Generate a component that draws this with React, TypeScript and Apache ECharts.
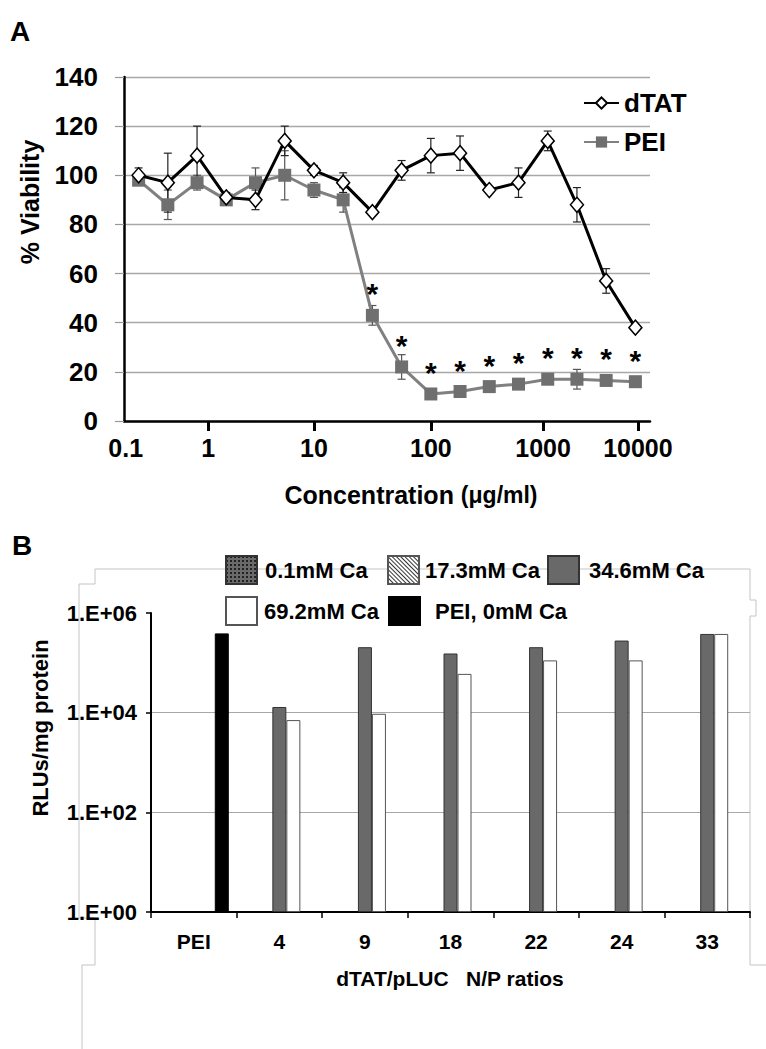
import React, { useEffect, useRef } from "react";
import * as echarts from "echarts";

// ---------- Panel A data ----------
const concentrations = [0.14, 0.3, 0.75, 1.6, 2.9, 5.4, 10, 18, 32, 57, 100, 185, 330, 600, 1100, 2300, 4600, 9400];
const concTickLabels = [0.1, 1, 10, 100, 1000, 10000];
const dTAT = [100, 97, 108, 91, 90, 114, 102, 97, 85, 102, 108, 109, 94, 97, 114, 88, 57, 38];
const dTATErr = [3, 12, 12, 2, 4, 6, 2, 4, 1, 4, 7, 7, 1, 6, 4, 7, 5, 0];
const PEI = [98, 88, 97, 90, 97, 100, 94, 90, 43, 22, 11, 12, 14, 15, 17, 17, 16.5, 16];
const PEIErr = [2, 6, 3, 2, 6, 10, 3, 5, 4, 5, 0, 0, 0, 0, 0, 4, 0, 0];
const significant = [false, false, false, false, false, false, false, false, true, true, true, true, true, true, true, true, true, true];

// ---------- Panel B data ----------
const npRatios = ["PEI", "4", "9", "18", "22", "24", "33"];
const ca01 = [null, null, null, null, null, null, null];
const ca173 = [null, null, null, null, null, null, null];
const ca346 = [null, 1.3e4, 2.06e5, 1.54e5, 2.06e5, 2.8e5, 3.8e5];
const ca692 = [null, 7.1e3, 9.5e3, 6.0e4, 1.12e5, 1.12e5, 3.8e5];
const pei0 = [3.9e5, null, null, null, null, null, null];

const FONT = '"Liberation Sans", Arial, Helvetica, sans-serif';

// position (in category units) of a concentration on the evenly spaced category axis
function concToPos(c: number): number {
  const L = concentrations.map((v) => Math.log10(v));
  const l = Math.log10(c);
  let j = 0;
  if (l <= L[0]) j = 0;
  else if (l >= L[L.length - 1]) j = L.length - 2;
  else {
    for (let k = 0; k < L.length - 1; k++) {
      if (l >= L[k] && l <= L[k + 1]) { j = k; break; }
    }
  }
  return j + 0.5 + (l - L[j]) / (L[j + 1] - L[j]);
}

function errRender(color: string) {
  return (params: any, api: any) => {
    const i = api.value(0);
    const v = api.value(1);
    const e = api.value(2);
    if (!e) return { type: "group", children: [] };
    const top = api.coord([i, v + e]);
    const bot = api.coord([i, v - e]);
    const w = 4;
    const style = { stroke: color, lineWidth: 1.2 };
    return {
      type: "group",
      children: [
        { type: "line", shape: { x1: top[0], y1: top[1], x2: bot[0], y2: bot[1] }, style },
        { type: "line", shape: { x1: top[0] - w, y1: top[1], x2: top[0] + w, y2: top[1] }, style },
        { type: "line", shape: { x1: bot[0] - w, y1: bot[1], x2: bot[0] + w, y2: bot[1] }, style },
      ],
    };
  };
}

export default function App() {
  const ref = useRef<HTMLDivElement>(null);
  useEffect(() => {
    document.body.style.margin = "0";
    if (!ref.current) return;
    const chart = echarts.init(ref.current, null, { renderer: "svg" });

    const labelPos = concTickLabels.map((c) => concToPos(c));
    const tickPos = labelPos.slice(1);
    const posToLabel = (v: number) => {
      for (let k = 0; k < labelPos.length; k++) {
        if (Math.abs(labelPos[k] - v) < 1e-6) return String(concTickLabels[k]);
      }
      return "";
    };

    const boldText = (size: number) => ({ fontFamily: FONT, fontWeight: "bold" as const, fontSize: size, color: "#000" });

    const legendB = (name: string, left: number, top: number, pad: number) => ({
      data: [name],
      left,
      top,
      padding: 0,
      itemWidth: 31,
      itemHeight: 28,
      icon: "rect",
      textStyle: { ...boldText(22), padding: [0, 0, 0, pad] },
    });

    const option: any = {
      animation: false,
      backgroundColor: "#fff",
      grid: [
        { left: 124, top: 77, width: 526, height: 344 },
        { left: 151, top: 613, width: 599, height: 299 },
      ],
      xAxis: [
        {
          gridIndex: 0,
          type: "category",
          data: concentrations.map(String),
          boundaryGap: true,
          axisLine: { lineStyle: { color: "#000", width: 2.5 } },
          axisTick: { show: false },
          axisLabel: { show: false },
          splitLine: { show: false },
        },
        {
          gridIndex: 0,
          type: "value",
          position: "bottom",
          min: 0,
          max: concentrations.length,
          axisLine: { show: false },
          splitLine: { show: false },
          axisTick: { show: true, customValues: tickPos, length: 10, lineStyle: { color: "#000", width: 3 } },
          axisLabel: { show: true, customValues: labelPos, formatter: posToLabel, margin: 14, ...boldText(25) },
        },
        {
          gridIndex: 1,
          type: "category",
          data: npRatios,
          boundaryGap: true,
          axisLine: { lineStyle: { color: "#000", width: 2 } },
          axisTick: { show: true, length: 6, lineStyle: { color: "#000", width: 1.5 } },
          axisLabel: { interval: 0, margin: 19, ...boldText(21) },
          splitLine: { show: false },
        },
      ],
      yAxis: [
        {
          gridIndex: 0,
          type: "value",
          min: 0,
          max: 140,
          interval: 20,
          axisLine: { show: true, lineStyle: { color: "#000", width: 2.5 } },
          axisTick: { show: true, length: 9, lineStyle: { color: "#999", width: 1.2 } },
          axisLabel: { margin: 26, ...boldText(26) },
          splitLine: { show: true, lineStyle: { color: "#a8a8a8", width: 1.3 } },
        },
        {
          gridIndex: 1,
          type: "log",
          logBase: 10,
          min: 1,
          max: 1e6,
          interval: 2,
          axisLine: { show: true, lineStyle: { color: "#000", width: 2 } },
          axisTick: { show: true, length: 5, lineStyle: { color: "#000", width: 1.5 } },
          axisLabel: {
            margin: 14,
            ...boldText(22),
            formatter: (v: number) => {
              const e = Math.round(Math.log10(v));
              return e % 2 === 0 ? `1.E+${String(e).padStart(2, "0")}` : "";
            },
          },
          splitLine: { show: true, showMinLine: false, showMaxLine: false, lineStyle: { color: "#a8a8a8", width: 1.2 } },
        },
      ],
      legend: [
        {
          data: ["dTAT"], left: 583, top: 90, padding: 0, itemWidth: 35, itemHeight: 14,
          textStyle: boldText(26),
        },
        {
          data: ["PEI"], left: 583, top: 129, padding: 0, itemWidth: 35, itemHeight: 14,
          textStyle: boldText(26),
        },
        legendB("0.1mM Ca", 225, 555, 3),
        legendB("17.3mM Ca", 387, 555, 1),
        legendB("34.6mM Ca", 547, 555, 5),
        legendB("69.2mM Ca", 225, 596, 2),
        legendB("PEI, 0mM Ca", 388, 596, 10),
      ],
      graphic: [
        { type: "text", left: 10, top: 17, style: { text: "A", font: `bold 28px ${FONT}`, fill: "#000" } },
        { type: "text", left: 12, top: 531, style: { text: "B", font: `bold 28px ${FONT}`, fill: "#000" } },
        {
          type: "text", x: 30, y: 202, rotation: Math.PI / 2,
          style: { text: "% Viability", font: `bold 25px ${FONT}`, fill: "#000", align: "center", verticalAlign: "middle" },
        },
        {
          type: "text", x: 411, y: 495,
          style: {
            text: "{a|Concentration }{b|(μg/ml)}",
            align: "center", verticalAlign: "middle",
            rich: {
              a: { font: `bold 25px ${FONT}`, fill: "#000" },
              b: { font: `bold 23px ${FONT}`, fill: "#000" },
            },
          },
        },
        {
          type: "text", x: 40, y: 728, rotation: Math.PI / 2,
          style: { text: "RLUs/mg protein", font: `bold 22px ${FONT}`, fill: "#000", align: "center", verticalAlign: "middle" },
        },
        {
          type: "text", x: 450, y: 978,
          style: { text: "dTAT/pLUC   N/P ratios", font: `bold 21px ${FONT}`, fill: "#000", align: "center", verticalAlign: "middle" },
        },
        {
          type: "polyline", z: -1, silent: true,
          shape: { points: [[750, 569], [95, 569], [95, 584], [79, 584], [79, 918], [95, 918], [95, 965], [82, 965], [82, 1049]] },
          style: { stroke: "#c4c4c4", lineWidth: 1, fill: null },
        },
        {
          type: "polyline", z: -1, silent: true,
          shape: { points: [[750, 569], [750, 600], [756, 600], [756, 616], [750, 616], [750, 965], [766, 965]] },
          style: { stroke: "#c4c4c4", lineWidth: 1, fill: null },
        },
      ],
      series: [
        {
          name: "PEI err",
          type: "custom",
          xAxisIndex: 0,
          yAxisIndex: 0,
          renderItem: errRender("#555"),
          data: PEI.map((v, i) => [i, v, PEIErr[i]]),
          encode: { x: 0, y: 1 },
          z: 1,
        },
        {
          name: "dTAT err",
          type: "custom",
          xAxisIndex: 0,
          yAxisIndex: 0,
          renderItem: errRender("#222"),
          data: dTAT.map((v, i) => [i, v, dTATErr[i]]),
          encode: { x: 0, y: 1 },
          z: 1,
        },
        {
          name: "PEI",
          type: "line",
          xAxisIndex: 0,
          yAxisIndex: 0,
          data: PEI.map((v, i) => ({ value: v, label: { show: significant[i] } })),
          symbol: "rect",
          symbolSize: 13,
          itemStyle: { color: "#6f6f6f" },
          lineStyle: { color: "#808080", width: 3 },
          label: { show: false, position: "top", distance: 0, formatter: "*", ...boldText(30) },
          z: 2,
        },
        {
          name: "dTAT",
          type: "line",
          xAxisIndex: 0,
          yAxisIndex: 0,
          data: dTAT,
          symbol: "diamond",
          symbolSize: [13, 15],
          itemStyle: { color: "#fff", borderColor: "#000", borderWidth: 1.5 },
          lineStyle: { color: "#000", width: 3 },
          z: 3,
        },
        {
          name: "0.1mM Ca",
          type: "bar",
          xAxisIndex: 2,
          yAxisIndex: 1,
          data: ca01,
          barWidth: 14,
          barGap: "0%",
          itemStyle: {
            color: "#6a6a6a",
            borderColor: "#333",
            borderWidth: 1,
            decal: { symbol: "rect", symbolSize: 1, color: "#222", dashArrayX: [2, 2], dashArrayY: [2, 2] },
          },
        },
        {
          name: "17.3mM Ca",
          type: "bar",
          xAxisIndex: 2,
          yAxisIndex: 1,
          data: ca173,
          barWidth: 14,
          barGap: "0%",
          itemStyle: {
            color: "#fff",
            borderColor: "#555",
            borderWidth: 1,
            decal: { symbol: "rect", symbolSize: 1, color: "#333", dashArrayX: [1, 0], dashArrayY: [1, 2], rotation: Math.PI / 4 },
          },
        },
        {
          name: "34.6mM Ca",
          type: "bar",
          xAxisIndex: 2,
          yAxisIndex: 1,
          data: ca346,
          barWidth: 14,
          barGap: "0%",
          itemStyle: { color: "#696969", borderColor: "#333", borderWidth: 1 },
        },
        {
          name: "69.2mM Ca",
          type: "bar",
          xAxisIndex: 2,
          yAxisIndex: 1,
          data: ca692,
          barWidth: 14,
          barGap: "0%",
          itemStyle: { color: "#fff", borderColor: "#555", borderWidth: 1 },
        },
        {
          name: "PEI, 0mM Ca",
          type: "bar",
          xAxisIndex: 2,
          yAxisIndex: 1,
          data: pei0,
          barWidth: 14,
          barGap: "0%",
          itemStyle: { color: "#000", borderColor: "#000", borderWidth: 1 },
        },
      ],
    };

    chart.setOption(option);
    return () => chart.dispose();
  }, []);

  return <div ref={ref} style={{ position: "absolute", left: 0, top: 0, width: 766, height: 1049 }} />;
}
